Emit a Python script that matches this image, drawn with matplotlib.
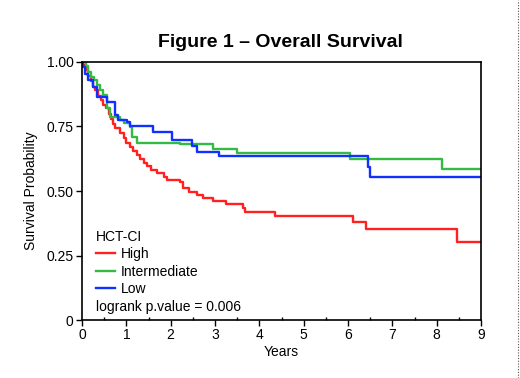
import numpy as np
import matplotlib.pyplot as plt
from matplotlib.lines import Line2D

plt.rcParams['font.family'] = ['Liberation Sans', 'DejaVu Sans']

# Kaplan-Meier step data (time in years, survival after step)
high_t = [0, 0.03, 0.08, 0.14, 0.2, 0.25, 0.3, 0.37, 0.42, 0.48, 0.55, 0.6, 0.65, 0.7,
          0.75, 0.85, 0.95, 1.0, 1.08, 1.16, 1.25, 1.31, 1.4, 1.47, 1.55, 1.7, 1.85,
          1.92, 2.2, 2.28, 2.42, 2.6, 2.72, 2.95, 3.25, 3.63, 3.68, 4.35, 6.12, 6.4,
          8.45, 9.0]
high_s = [1.0, 0.99, 0.97, 0.945, 0.925, 0.905, 0.89, 0.87, 0.853, 0.835, 0.82, 0.80,
          0.78, 0.76, 0.745, 0.725, 0.705, 0.685, 0.67, 0.655, 0.64, 0.625, 0.61, 0.595,
          0.58, 0.57, 0.555, 0.543, 0.535, 0.51, 0.497, 0.484, 0.472, 0.46, 0.448,
          0.433, 0.418, 0.405, 0.38, 0.352, 0.303, 0.303]

inter_t = [0, 0.1, 0.14, 0.2, 0.27, 0.33, 0.41, 0.48, 0.56, 0.63, 0.86, 0.95, 1.08,
           1.12, 1.23, 2.21, 2.96, 3.49, 6.05, 8.13, 9.0]
inter_s = [1.0, 0.985, 0.962, 0.943, 0.93, 0.912, 0.89, 0.872, 0.82, 0.788, 0.775,
           0.762, 0.749, 0.71, 0.687, 0.681, 0.662, 0.649, 0.624, 0.584, 0.584]

low_t = [0, 0.03, 0.07, 0.14, 0.25, 0.33, 0.56, 0.74, 0.82, 1.01, 1.08, 1.61, 2.02,
         2.47, 2.59, 3.08, 6.44, 6.5, 9.0]
low_s = [1.0, 0.98, 0.955, 0.93, 0.904, 0.866, 0.846, 0.795, 0.775, 0.769, 0.752,
         0.73, 0.698, 0.676, 0.652, 0.636, 0.594, 0.553, 0.553]

fig = plt.figure(figsize=(5.2, 3.78), dpi=100)
ax = fig.add_axes([0.1577, 0.1534, 0.925 - 0.1577, 0.836 - 0.1534])

ax.step(high_t, high_s, where='post', color='#ff2020', lw=1.7, label='High')
ax.step(inter_t, inter_s, where='post', color='#33bb44', lw=1.7, label='Intermediate')
ax.step(low_t, low_s, where='post', color='#1030ff', lw=1.7, label='Low')

ax.set_xlim(0, 9)
ax.set_ylim(0, 1)
ax.set_xticks(range(10))
ax.set_xticks(np.arange(0.5, 9, 1), minor=True)
ax.set_yticks([0, 0.25, 0.5, 0.75, 1.0])
ax.set_yticklabels(['0', '0.25', '0.50', '0.75', '1.00'])
ax.tick_params(axis='both', which='major', direction='out', length=4, width=1,
               labelsize=10, pad=2)
ax.tick_params(axis='x', which='minor', direction='in', length=2, width=1)
for sp in ax.spines.values():
    sp.set_linewidth(1.2)

ax.set_xlabel('Years', fontsize=10, labelpad=2)
ax.set_ylabel('Survival Probability', fontsize=10, labelpad=6)
fig.text(0.54, 0.888, 'Figure 1 \u2013 Overall Survival', ha='center', va='center',
         fontsize=14, fontweight='bold')

leg = ax.legend(title='HCT-CI', loc='lower left', bbox_to_anchor=(0.035, 0.092),
                frameon=False, fontsize=10, title_fontsize=10, handlelength=1.4,
                handletextpad=0.4, labelspacing=0.25, borderaxespad=0, borderpad=0)
leg._legend_box.align = 'left'
ax.text(0.035, 0.05, 'logrank p.value = 0.006', transform=ax.transAxes,
        fontsize=10, va='center', ha='left')

# dotted page border on the right
fig.add_artist(Line2D([0.996, 0.996], [0, 1], transform=fig.transFigure,
                      color='#555555', lw=0.8, ls=(0, (1, 1.5))))

fig.savefig('out.png', dpi=100)
